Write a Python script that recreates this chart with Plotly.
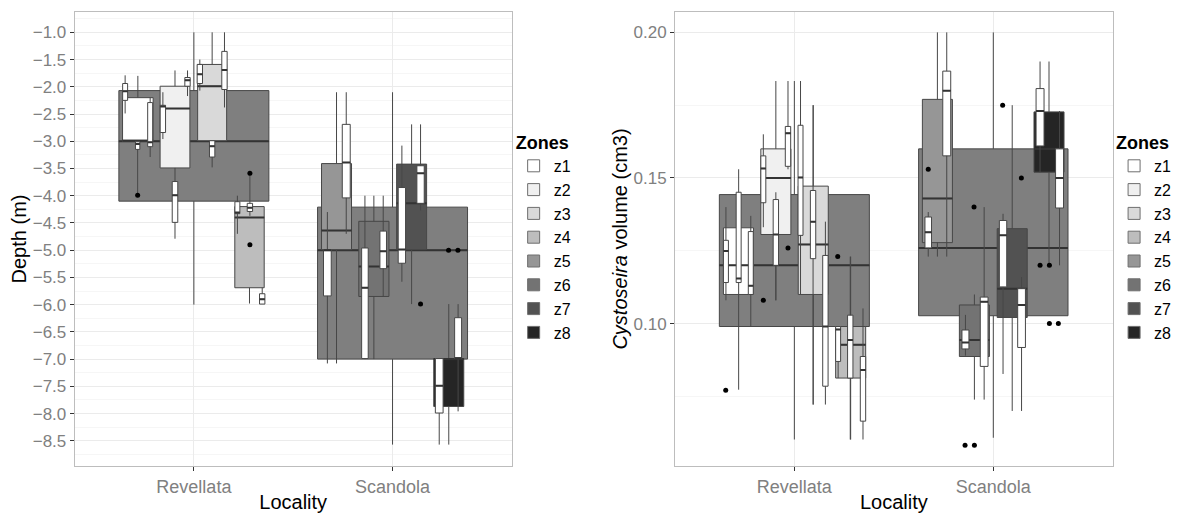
import plotly.graph_objects as go
from plotly.subplots import make_subplots

localities = ["Revellata", "Scandola"]
zones = ["z1", "z2", "z3", "z4", "z5", "z6", "z7", "z8"]
zone_fills = ["#ffffff", "#f0f0f0", "#d9d9d9", "#bdbdbd", "#969696", "#737373", "#525252", "#252525"]
overall_fill = "#7f7f7f"
sub_fill = "#ffffff"

# ---------------- Depth (m) ----------------
depth_loc = [1] * 17 + [2] * 13
depth_kind = ["all", "z1", "s", "s", "s", "z2", "s", "s", "s", "z3", "s", "s", "s", "z4", "s", "s", "s",
              "all", "z5", "s", "s", "z6", "s", "s", "z7", "s", "s", "z8", "s", "s"]
depth_off = [0.0, -0.282, -0.346, -0.283, -0.22, -0.095, -0.156, -0.095, -0.032, 0.092, 0.03, 0.092, 0.154,
             0.28, 0.219, 0.282, 0.344,
             0.0, -0.282, -0.328, -0.233, -0.094, -0.139, -0.047, 0.096, 0.047, 0.141, 0.283, 0.235, 0.33]
depth_w = [0.755, 0.154, 0.025, 0.022, 0.025, 0.15, 0.027, 0.028, 0.027, 0.146, 0.027, 0.027, 0.027,
           0.148, 0.025, 0.027, 0.027,
           0.755, 0.151, 0.039, 0.04, 0.152, 0.033, 0.033, 0.151, 0.037, 0.037, 0.151, 0.039, 0.035]
depth_q1 = [-4.10, -3.0, -2.25, -3.15, -3.10, -3.49, -2.84, -4.49, -1.99, -2.99, -1.94, -3.29, -2.05,
            -5.69, -4.33, -4.29, -5.99,
            -7.0, -4.99, -5.84, -4.04, -5.85, -6.99, -5.34, -4.99, -5.24, -4.14, -7.87, -7.99, -6.99]
depth_med = [-3.0, -2.99, -2.08, -3.05, -3.02, -2.40, -2.36, -3.99, -1.88, -1.99, -1.77, -3.09, -1.69,
             -4.40, -4.31, -4.22, -5.90,
             -5.0, -4.64, -5.0, -3.39, -5.30, -5.69, -5.02, -4.14, -4.99, -3.59, -7.0, -7.49, -6.99]
depth_q3 = [-2.07, -2.20, -1.94, -3.01, -2.29, -1.99, -2.34, -3.74, -1.83, -1.59, -1.59, -2.99, -1.35,
            -4.20, -4.11, -4.14, -5.80,
            -4.21, -3.41, -4.99, -2.69, -4.47, -4.96, -4.65, -3.42, -3.85, -3.45, -6.99, -6.99, -6.24]
depth_lo = [-6.0, -3.0, -2.49, -3.99, -3.29, -3.49, -2.96, -4.79, -2.17, -2.99, -2.07, -3.48, -2.38,
            -5.98, -4.70, -4.37, -5.99,
            -8.57, -7.08, -7.08, -4.70, -7.0, -7.0, -5.86, -5.99, -5.58, -4.27, -8.57, -8.57, -7.96]
depth_hi = [-1.0, -1.80, -1.79, -3.01, -2.20, -1.70, -2.10, -3.49, -1.70, -1.0, -1.50, -2.99, -1.0,
            -4.20, -4.0, -3.59, -5.69,
            -2.10, -2.10, -4.30, -2.10, -4.0, -4.0, -4.0, -2.69, -3.08, -2.69, -5.99, -6.99, -5.99]
depth_out_x = [0.717, 1.282, 1.282, 2.282, 2.329, 2.141]
depth_out_y = [-3.99, -3.59, -4.90, -5.0, -5.0, -5.99]

# ---------------- Cystoseira volume (cm3) ----------------
vol_loc = [1] * 17 + [2] * 13
vol_kind = ["all", "z1", "s", "s", "s", "z2", "s", "s", "s", "z3", "s", "s", "s", "z4", "s", "s", "s",
            "all", "z5", "s", "s", "z6", "s", "s", "z7", "s", "s", "z8", "s", "s"]
vol_off = [0.0, -0.281, -0.344, -0.28, -0.219, -0.093, -0.156, -0.093, -0.032, 0.095, 0.031, 0.094, 0.156,
           0.283, 0.22, 0.281, 0.345,
           0.0, -0.281, -0.327, -0.234, -0.095, -0.14, -0.046, 0.095, 0.049, 0.142, 0.28, 0.235, 0.333]
vol_w = [0.754, 0.151, 0.025, 0.025, 0.025, 0.151, 0.025, 0.027, 0.027, 0.151, 0.025, 0.027, 0.027,
         0.151, 0.025, 0.027, 0.027,
         0.751, 0.151, 0.033, 0.04, 0.151, 0.035, 0.039, 0.151, 0.037, 0.039, 0.151, 0.04, 0.04]
vol_q1 = [0.099, 0.110, 0.1141, 0.1141, 0.110, 0.1306, 0.1415, 0.120, 0.154, 0.110, 0.1303, 0.1223, 0.0785,
          0.0813, 0.087, 0.0813, 0.0665,
          0.1027, 0.1278, 0.126, 0.1576, 0.0887, 0.0913, 0.0853, 0.1021, 0.1126, 0.0918, 0.152, 0.161, 0.1397]
vol_med = [0.120, 0.120, 0.1249, 0.1155, 0.113, 0.150, 0.1533, 0.1306, 0.1654, 0.1272, 0.1502, 0.135, 0.099,
           0.0927, 0.098, 0.0944, 0.0841,
           0.126, 0.143, 0.1314, 0.180, 0.0944, 0.0935, 0.1075, 0.112, 0.1303, 0.1064, 0.160, 0.173, 0.150]
vol_q3 = [0.1443, 0.1329, 0.1286, 0.1451, 0.1316, 0.160, 0.1576, 0.1426, 0.1677, 0.1472, 0.1681, 0.1457, 0.1234,
          0.099, 0.099, 0.1029, 0.0887,
          0.160, 0.177, 0.1366, 0.1867, 0.1064, 0.0978, 0.1091, 0.1326, 0.1354, 0.112, 0.1727, 0.1807, 0.160]
vol_lo = [0.0602, 0.110, 0.108, 0.0773, 0.099, 0.108, 0.1331, 0.108, 0.153, 0.0722, 0.110, 0.0722, 0.0722,
          0.0602, 0.0813, 0.0602, 0.0602,
          0.0608, 0.123, 0.123, 0.123, 0.0739, 0.089, 0.0739, 0.070, 0.0827, 0.070, 0.120, 0.152, 0.120]
vol_hi = [0.1833, 0.1329, 0.140, 0.153, 0.137, 0.1833, 0.165, 0.1451, 0.1833, 0.175, 0.1833, 0.175, 0.135,
          0.123, 0.099, 0.123, 0.1052,
          0.20, 0.20, 0.1383, 0.20, 0.110, 0.103, 0.140, 0.175, 0.1377, 0.116, 0.190, 0.190, 0.173]
vol_out_x = [0.655, 0.844, 0.968, 1.218, 1.673, 1.903, 2.047, 2.141, 2.235, 2.282, 2.282, 2.327, 1.858, 1.905]
vol_out_y = [0.0771, 0.108, 0.126, 0.123, 0.153, 0.140, 0.175, 0.150, 0.120, 0.120, 0.100, 0.100, 0.0582, 0.0582]

LINE = "#474747"
FONT = "Liberation Sans, Arial, sans-serif"


def fill_of(kind):
    if kind == "all":
        return overall_fill
    if kind == "s":
        return sub_fill
    return zone_fills[zones.index(kind)]


fig = make_subplots(rows=1, cols=2)


def add_panel(col, loc, kind, off, w, q1, med, q3, lo, hi, ox, oy):
    for i in range(len(loc)):
        xp = [loc[i] + off[i]]
        fig.add_trace(go.Box(
            x=xp, q1=[q1[i]], median=[med[i]], q3=[q3[i]],
            lowerfence=[lo[i]], upperfence=[hi[i]], width=w[i],
            fillcolor=fill_of(kind[i]), line=dict(color=LINE, width=1),
            whiskerwidth=0, boxpoints=False, showlegend=False, hoverinfo="skip"),
            row=1, col=col)
        # thicker median line (ggplot fatten)
        fig.add_trace(go.Box(
            x=xp, q1=[med[i]], median=[med[i]], q3=[med[i]],
            lowerfence=[med[i]], upperfence=[med[i]], width=w[i],
            fillcolor="rgba(0,0,0,0)", line=dict(color="#333333", width=2),
            whiskerwidth=0, boxpoints=False, showlegend=False, hoverinfo="skip"),
            row=1, col=col)
    fig.add_trace(go.Scatter(x=ox, y=oy, mode="markers",
                             marker=dict(color="black", size=5), showlegend=False,
                             hoverinfo="skip"), row=1, col=col)


add_panel(1, depth_loc, depth_kind, depth_off, depth_w, depth_q1, depth_med, depth_q3,
          depth_lo, depth_hi, depth_out_x, depth_out_y)
add_panel(2, vol_loc, vol_kind, vol_off, vol_w, vol_q1, vol_med, vol_q3,
          vol_lo, vol_hi, vol_out_x, vol_out_y)

# legend entries (one legend per panel)
for col, leg, yv in [(1, "legend", -20.0), (2, "legend2", -1.0)]:
    for z, c in zip(zones, zone_fills):
        fig.add_trace(go.Box(x=[-5], q1=[yv], median=[yv], q3=[yv], lowerfence=[yv], upperfence=[yv],
                             name=z, fillcolor=c, line=dict(color="#6e6e6e", width=1),
                             boxpoints=False, legend=leg, showlegend=True, hoverinfo="skip"),
                      row=1, col=col)

axis_common = dict(showline=True, mirror=True, linecolor="#bdbdbd", linewidth=1,
                   ticks="outside", ticklen=4, tickcolor="#333333",
                   gridcolor="#ebebeb", zeroline=False)

fig.update_xaxes(**axis_common, range=[0.4, 2.6], tickvals=[1, 2], ticktext=localities,
                 tickfont=dict(family=FONT, size=18, color="#808080"),
                 title=dict(text="Locality", font=dict(family=FONT, size=20, color="black"), standoff=2))
fig.update_xaxes(domain=[0.0628, 0.4304], row=1, col=1)
fig.update_xaxes(domain=[0.5677, 0.9358], row=1, col=2)

yfont = dict(family=FONT, size=17, color="#808080")
fig.update_yaxes(**axis_common, row=1, col=1, range=[-8.963, -0.627], dtick=0.5, tick0=-1.0,
                 tickformat=".1f", tickfont=yfont,
                 minor=dict(dtick=0.25, tick0=-1.0, showgrid=True, gridcolor="#f6f6f6"),
                 title=dict(text="Depth (m)", font=dict(family=FONT, size=20, color="black"), standoff=0))
fig.update_yaxes(**axis_common, row=1, col=2, range=[0.0511, 0.207], dtick=0.05, tick0=0.1,
                 tickformat=".2f", tickfont=yfont,
                 minor=dict(dtick=0.025, tick0=0.1, showgrid=True, gridcolor="#f6f6f6"),
                 title=dict(text="<i>Cystoseira</i> volume (cm3)",
                            font=dict(family=FONT, size=20, color="black"), standoff=0))

legend_common = dict(bgcolor="rgba(0,0,0,0)", xanchor="left", yanchor="top",
                     font=dict(family=FONT, size=16, color="black"),
                     title=dict(text="<b>Zones</b>", font=dict(family=FONT, size=18, color="black")),
                     tracegroupgap=0, itemwidth=30)
fig.update_layout(
    width=1189, height=513,
    margin=dict(l=0, r=0, t=12, b=45),
    paper_bgcolor="white", plot_bgcolor="white",
    boxmode="overlay",
    legend=dict(**legend_common, x=0.432, y=0.75),
    legend2=dict(**legend_common, x=0.937, y=0.75),
)

fig.write_html("out.html")
